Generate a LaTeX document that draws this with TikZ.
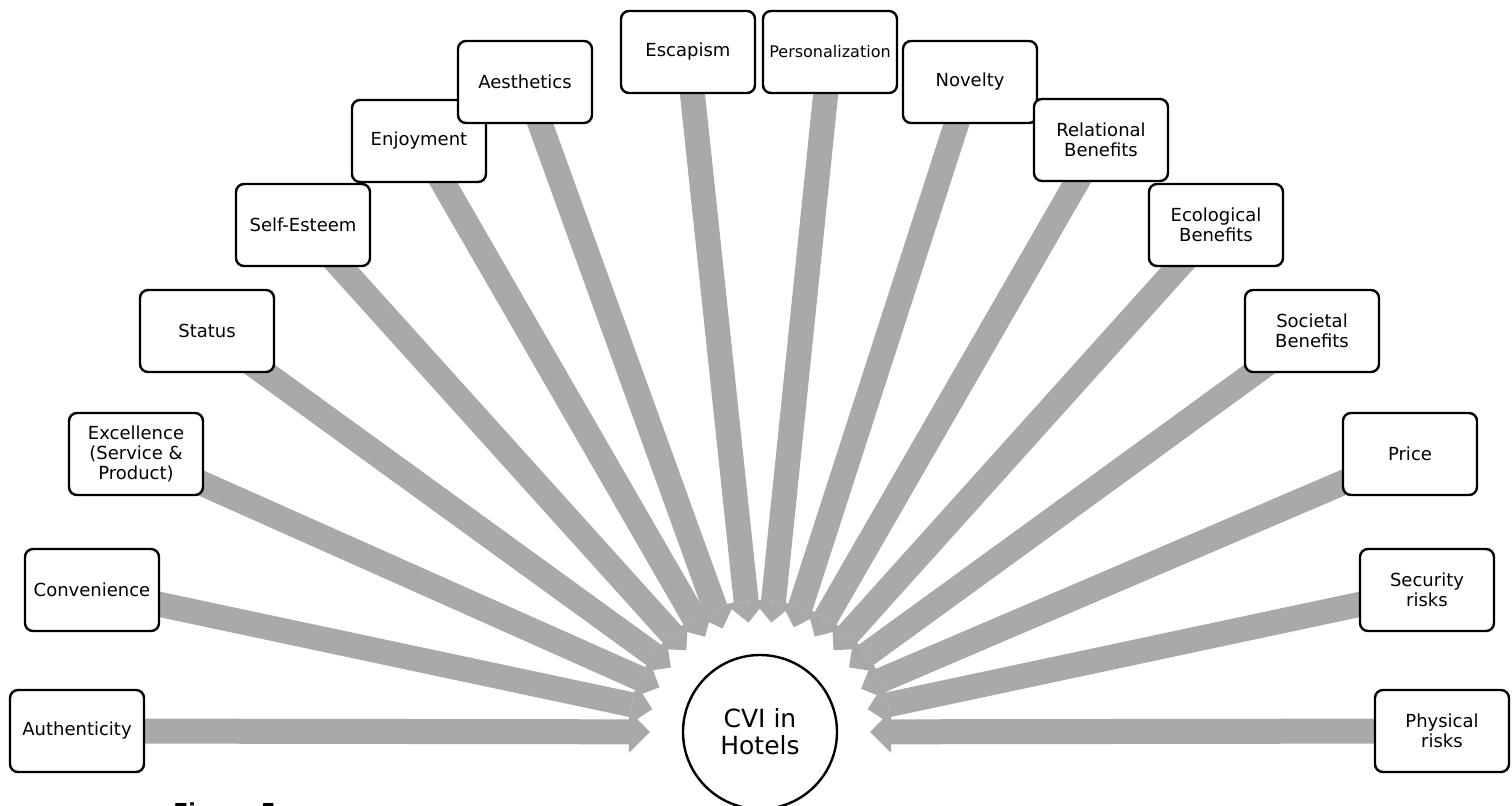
\documentclass[tikz,border=0pt]{standalone}
\usepackage{fontspec}
\setmainfont{DejaVu Sans}
\usepackage{tikz}
\usetikzlibrary{calc,arrows.meta,backgrounds}

\definecolor{flowgray}{RGB}{169,169,169}

\tikzset{
  factor/.style={draw,line width=1.2pt,rounded corners=4pt,fill=white,
    minimum width=67pt,minimum height=41pt,align=center,inner sep=2pt,
    font=\fontsize{9}{10}\selectfont},
  hub/.style={draw,circle,line width=1.2pt,fill=white,minimum size=77pt,
    align=center,inner sep=0pt,font=\fontsize{12.5}{13.5}\selectfont},
  flow/.style={draw=flowgray,line width=12.5pt,
    -{Triangle[width=21pt,length=10.5pt,line width'=0pt,fill=flowgray]}},
}

\begin{document}
\begin{tikzpicture}[x=0.5pt,y=-0.5pt]
        \useasboundingbox (0,0) rectangle (1512,805);
        % centre
        \node[hub] (cvi) at (760,732) {CVI in\\Hotels};
        % left half
        \node[factor] (auth) at (77,731) {Authenticity};
        \node[factor] (conv) at (92,590) {Convenience};
        \node[factor] (excel) at (136,454) {Excellence\\(Service \&\\Product)};
        \node[factor] (status) at (207,331) {Status};
        \node[factor] (esteem) at (303,225) {Self-Esteem};
        \node[factor] (enjoy) at (419,141) {Enjoyment};
        \node[factor] (aesth) at (525,82) {Aesthetics};
        \node[factor] (escap) at (688,52) {Escapism};
        % right half
        \node[factor,font=\fontsize{8}{9}\selectfont] (person) at (830,52) {Personalization};
        \node[factor] (novel) at (970,82) {Novelty};
        \node[factor] (relat) at (1101,140) {Relational\\Benefits};
        \node[factor] (ecol) at (1216,225) {Ecological\\Benefits};
        \node[factor] (societ) at (1312,331) {Societal\\Benefits};
        \node[factor] (price) at (1410,454) {Price};
        \node[factor] (secur) at (1427,590) {Security\\risks};
        \node[factor] (phys) at (1442,731) {Physical\\risks};
        % arrows to the centre, behind the boxes
        \begin{scope}[on background layer]
        \draw[flow] (auth.center) -- ($(cvi)!55pt!(auth)$);
        \draw[flow] (conv.center) -- ($(cvi)!55pt!(conv)$);
        \draw[flow] (excel.center) -- ($(cvi)!55pt!(excel)$);
        \draw[flow] (status.center) -- ($(cvi)!55pt!(status)$);
        \draw[flow] (esteem.center) -- ($(cvi)!55pt!(esteem)$);
        \draw[flow] (enjoy.center) -- ($(cvi)!55pt!(enjoy)$);
        \draw[flow] (aesth.center) -- ($(cvi)!55pt!(aesth)$);
        \draw[flow] (escap.center) -- ($(cvi)!55pt!(escap)$);
        \draw[flow] (person.center) -- ($(cvi)!55pt!(person)$);
        \draw[flow] (novel.center) -- ($(cvi)!55pt!(novel)$);
        \draw[flow] (relat.center) -- ($(cvi)!55pt!(relat)$);
        \draw[flow] (ecol.center) -- ($(cvi)!55pt!(ecol)$);
        \draw[flow] (societ.center) -- ($(cvi)!55pt!(societ)$);
        \draw[flow] (price.center) -- ($(cvi)!55pt!(price)$);
        \draw[flow] (secur.center) -- ($(cvi)!55pt!(secur)$);
        \draw[flow] (phys.center) -- ($(cvi)!55pt!(phys)$);
        \end{scope}
        % caption, cut at the lower edge
        \node[anchor=north west,inner sep=0pt,font=\fontsize{11}{13}\selectfont\bfseries] (fig) at (173,802) {Figure 5};
\end{tikzpicture}
\end{document}
